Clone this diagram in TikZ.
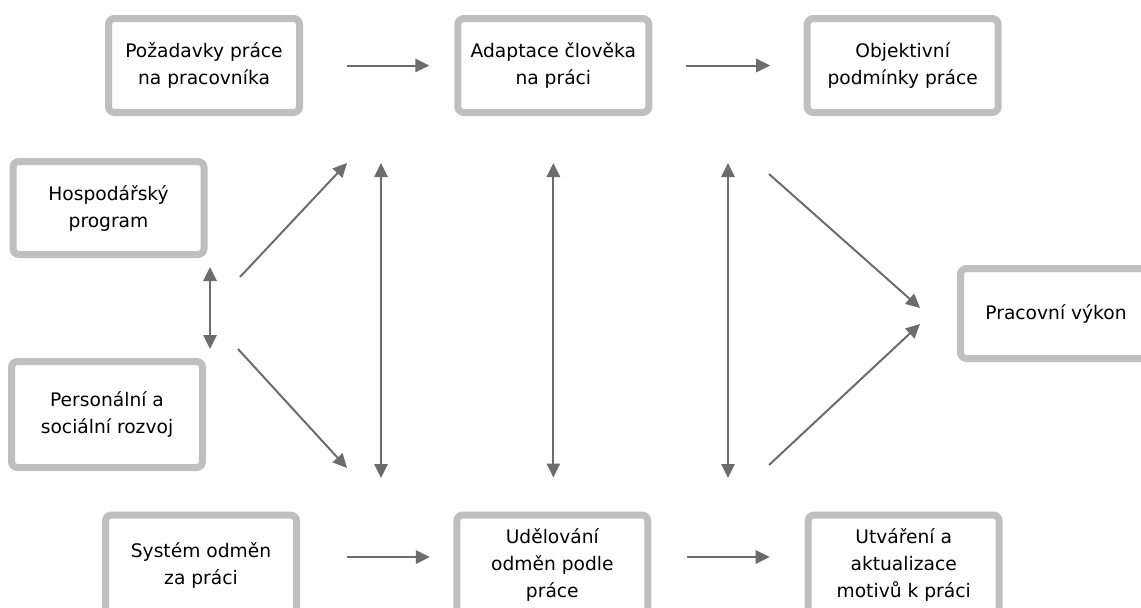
\documentclass[tikz,border=0pt]{standalone}
\usepackage{fontspec}
\setmainfont{DejaVu Sans}
\definecolor{pracFrame}{RGB}{191,191,191}
\definecolor{pracArrow}{RGB}{108,108,108}
\usepackage{tikz}
\usetikzlibrary{arrows.meta,positioning,calc}
\newlength\pxu
\setlength\pxu{0.75pt}

\begin{document}
\begin{tikzpicture}[
  x=0.75pt, y=-0.75pt,
  box/.style={draw=pracFrame, line width=7\pxu, rounded corners=6\pxu, fill=white,
              minimum width=191\pxu, minimum height=94\pxu, inner sep=2pt,
              font=\fontsize{14}{20.25}\selectfont, align=center},
  arr/.style={-{Triangle[length=10.5pt,width=10pt]}, line width=1.5pt, pracArrow},
  dbl/.style={{Triangle[length=10.5pt,width=10pt]}-{Triangle[length=10.5pt,width=10pt]},
              line width=1.5pt, pracArrow}
]
  \useasboundingbox (0,0) rectangle (1141,607);
  \clip (0,0) rectangle (1141,607);

  % top row
  \node[box] at (204,65.5)                  (poz)    {Požadavky práce\\na pracovníka};
  \node[box, right=113.5pt of poz]          (adapt)  {Adaptace člověka\\na práci};
  \node[box, right=113.5pt of adapt]        (obj)    {Objektivní\\podmínky práce};

  % left column and result
  \node[box, minimum height=93\pxu]  at (108.5,208) (hosp)  {Hospodářský\\program};
  \node[box, minimum height=106\pxu] at (107,414.5) (pers)  {Personální a\\sociální rozvoj};
  \node[box, minimum height=90\pxu]  at (1056,313.5) (vykon) {Pracovní výkon};

  % bottom row (cut by the lower edge)
  \node[box, minimum height=100\pxu] at (201,565)    (sys)  {Systém odměn\\za práci};
  \node[box, minimum height=100\pxu, right=115pt of sys]  (udel) {Udělování\\odměn podle\\práce};
  \node[box, minimum height=100\pxu, right=115pt of udel] (utv)  {Utváření a\\aktualizace\\motivů k práci};

  % free ends
  \coordinate (lvTop) at (381,163);
  \coordinate (lvBot) at (381,478);
  \coordinate (rvTop) at (728,163);
  \coordinate (rvBot) at (728,478);
  \coordinate (hpTop) at (210,267);
  \coordinate (hpBot) at (210,349);
  \coordinate (fanUp) at (240,277);
  \coordinate (fanDn) at (238,349);
  \coordinate (fanUpEnd) at (347,163);
  \coordinate (fanDnEnd) at (347,468);
  \coordinate (vkUp) at (769,174);
  \coordinate (vkDn) at (769,465);

  \draw[arr, shorten <=44\pxu, shorten >=25\pxu] (poz) -- (adapt);
  \draw[arr, shorten <=34\pxu, shorten >=33.5\pxu] (adapt) -- (obj);
  \draw[arr, shorten <=47\pxu, shorten >=23.5\pxu] ([yshift=8\pxu]sys.east) -- ([yshift=8\pxu]udel.west);
  \draw[arr, shorten <=35.5\pxu, shorten >=35\pxu] ([yshift=8\pxu]udel.east) -- ([yshift=8\pxu]utv.west);

  \draw[dbl, shorten <=47\pxu, shorten >=34\pxu] (adapt.south) -- (adapt.south |- udel.north);
  \draw[dbl] (lvTop) -- (lvBot);
  \draw[dbl] (rvTop) -- (rvBot);
  \draw[dbl] (hpTop) -- (hpBot);

  \draw[arr] (fanUp) -- (fanUpEnd);
  \draw[arr] (fanDn) -- (fanDnEnd);
  \draw[arr] (vkUp) -- ($(vykon.west)+(-37,-5.5)$);
  \draw[arr] (vkDn) -- ($(vykon.west)+(-37,10.5)$);
\end{tikzpicture}
\end{document}
